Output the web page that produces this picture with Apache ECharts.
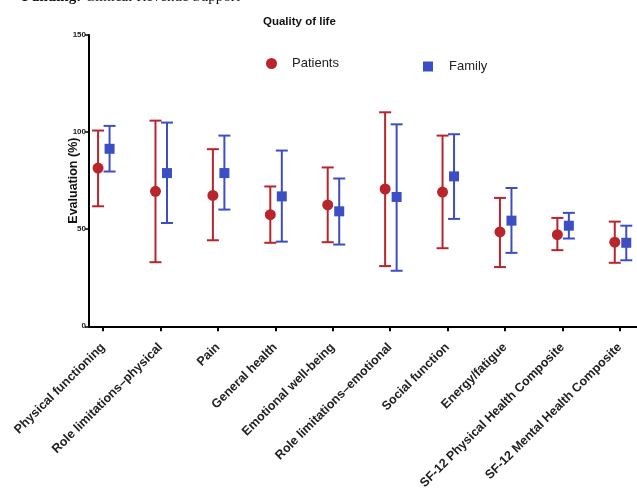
<!DOCTYPE html>
<html><head><meta charset="utf-8">
<script src="https://cdn.jsdelivr.net/npm/echarts@6/dist/echarts.min.js"></script>
<style>html,body{margin:0;padding:0;background:#fff}#c{width:637px;height:492px}</style>
</head><body><div id="c"></div>
<script>
const categories = ['Physical functioning','Role limitations–physical','Pain','General health','Emotional well-being','Role limitations–emotional','Social function','Energy/fatigue','SF-12 Physical Health Composite','SF-12 Mental Health Composite'];
const patientsMean = [81.5, 69.5, 67.4, 57.5, 62.5, 70.7, 69.1, 48.6, 47.2, 43.3];
const patientsLow  = [61.8, 33.0, 44.3, 43.0, 43.3, 31.0, 40.2, 30.5, 39.2, 32.7];
const patientsHigh = [100.8, 105.9, 91.2, 72.0, 81.8, 110.2, 98.2, 66.1, 55.8, 53.9];
const familyMean = [91.4, 78.9, 78.9, 66.9, 59.2, 66.6, 77.2, 54.4, 51.8, 43.0];
const familyLow  = [79.7, 53.2, 60.1, 43.6, 42.1, 28.6, 55.3, 37.8, 45.2, 34.0];
const familyHigh = [103.2, 104.9, 98.2, 90.5, 76.1, 104.0, 98.9, 71.2, 58.4, 51.8];
const yTicks = [0, 50, 100, 150];

const RED = '#b8252c', BLUE = '#3d4ec4';
const idx = categories.map((c, i) => i);

function errRender(dx, color) {
  return function (params, api) {
    const x = api.value(0);
    const lo = api.coord([x, api.value(1)]);
    const hi = api.coord([x, api.value(2)]);
    const px = lo[0] + dx, hw = 6;
    const style = { stroke: color, lineWidth: 2 };
    return { type: 'group', children: [
      { type: 'line', shape: { x1: px, y1: hi[1], x2: px, y2: lo[1] }, style },
      { type: 'line', shape: { x1: px - hw, y1: hi[1], x2: px + hw, y2: hi[1] }, style },
      { type: 'line', shape: { x1: px - hw, y1: lo[1], x2: px + hw, y2: lo[1] }, style }
    ]};
  };
}

const chart = echarts.init(document.getElementById('c'));
chart.setOption({
  animation: false,
  backgroundColor: '#fff',
  textStyle: { fontFamily: 'Liberation Sans, Arial, sans-serif' },
  title: { text: 'Quality of life', left: 258, top: 11, textStyle: { fontSize: 11.5, fontWeight: 'bold', color: '#111' } },
  graphic: [{ type: 'text', left: 22, top: -10, style: { text: '{b|Funding:} Clinical Revenue Support', font: '15px Liberation Serif', fill: '#111',
    rich: { b: { fontWeight: 'bold', fontSize: 15, fontFamily: 'Liberation Serif' } } } }],
  legend: [
    { data: [{ name: 'Patients', icon: 'circle' }], left: 266, top: 57, padding: 0, itemWidth: 11, itemHeight: 11,
      textStyle: { fontSize: 13, color: '#222', padding: [0, 0, 0, 10] } },
    { data: [{ name: 'Family', icon: 'rect' }], left: 423, top: 60, padding: 0, itemWidth: 10, itemHeight: 10,
      textStyle: { fontSize: 13, color: '#222', padding: [0, 0, 0, 11] } }
  ],
  grid: { left: 89, right: 0, top: 35, bottom: 165 },
  xAxis: {
    type: 'value', min: -0.245, max: 9.3,
    axisLine: { onZero: false, lineStyle: { color: '#000', width: 2 } },
    axisTick: { show: true, length: 5, customValues: idx, lineStyle: { color: '#000', width: 2 } },
    splitLine: { show: false },
    axisLabel: { customValues: idx, rotate: 45, margin: 19, fontSize: 12.5, fontWeight: 'bold', color: '#222',
      formatter: v => categories[Math.round(v)] }
  },
  yAxis: {
    type: 'value', min: 0, max: 150, interval: 50,
    name: 'Evaluation (%)', nameLocation: 'middle', nameGap: 9, nameMoveOverlap: false,
    nameTextStyle: { fontSize: 12.5, fontWeight: 'bold', color: '#111' },
    axisLine: { show: true, onZero: false, lineStyle: { color: '#000', width: 2 } },
    axisTick: { show: true, length: 4, lineStyle: { color: '#000', width: 1.5 } },
    splitLine: { show: false },
    axisLabel: { fontSize: 8, fontWeight: 'bold', color: '#222', margin: 3,
      formatter: v => yTicks.indexOf(v) >= 0 ? String(v) : '' }
  },
  series: [
    { name: 'Patients range', type: 'custom', renderItem: errRender(-5, RED), encode: { x: 0, y: [1, 2] },
      data: idx.map(i => [i, patientsLow[i], patientsHigh[i]]), z: 2 },
    { name: 'Family range', type: 'custom', renderItem: errRender(6.5, BLUE), encode: { x: 0, y: [1, 2] },
      data: idx.map(i => [i, familyLow[i], familyHigh[i]]), z: 2 },
    { name: 'Patients', type: 'scatter', symbol: 'circle', symbolSize: 11, symbolOffset: [-5, 0],
      itemStyle: { color: RED, opacity: 1 }, data: idx.map(i => [i, patientsMean[i]]), z: 3 },
    { name: 'Family', type: 'scatter', symbol: 'rect', symbolSize: 10, symbolOffset: [6.5, 0],
      itemStyle: { color: BLUE, opacity: 1 }, data: idx.map(i => [i, familyMean[i]]), z: 3 }
  ]
});
</script></body></html>
